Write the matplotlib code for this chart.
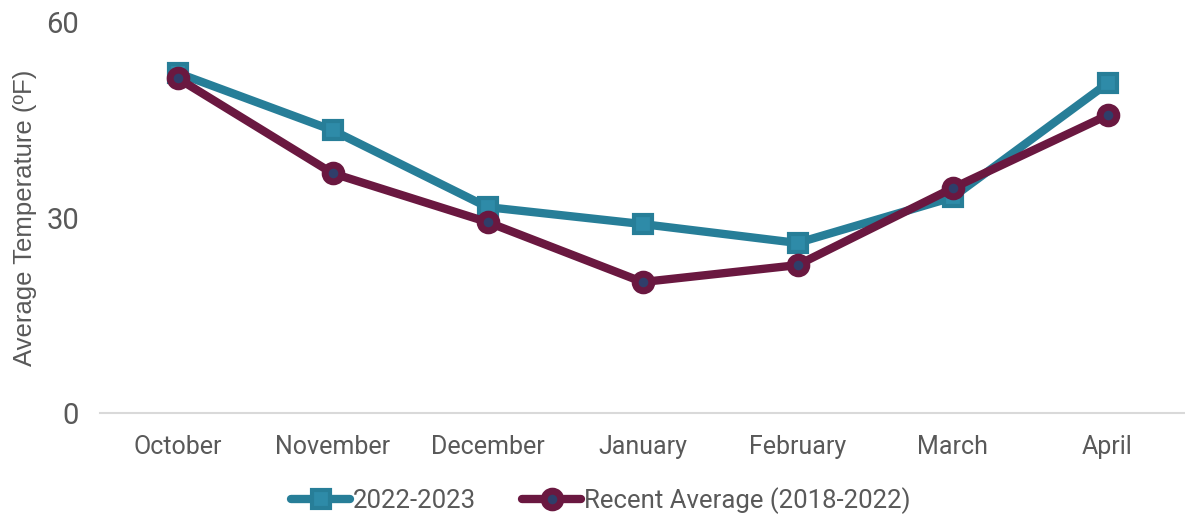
import matplotlib.pyplot as plt

months = ["October", "November", "December", "January", "February", "March", "April"]
temps_2022_2023 = [52.2, 43.4, 31.6, 29.0, 26.1, 33.1, 50.6]
temps_recent_avg = [51.4, 36.8, 29.3, 20.1, 22.7, 34.5, 45.7]

plt.rcParams['font.family'] = ['Roboto', 'DejaVu Sans']
text_color = "#595959"

fig = plt.figure(figsize=(11.85, 5.14), dpi=100)
ax = fig.add_axes([0.0844, 0.1965, 0.9156, 0.7605])

x = range(len(months))
ax.plot(x, temps_2022_2023, color="#277E98", linewidth=6, marker="s", markersize=13,
        markerfacecolor="#2E8BA8", markeredgecolor="#277E98", markeredgewidth=3,
        label="2022-2023", solid_joinstyle="round", solid_capstyle="round", zorder=3)
ax.plot(x, temps_recent_avg, color="#6A1840", linewidth=6, marker="o", markersize=12,
        markerfacecolor="#2F3E6A", markeredgecolor="#6A1840", markeredgewidth=5,
        label="Recent Average (2018-2022)", solid_joinstyle="round", solid_capstyle="round", zorder=4)

ax.set_xlim(-0.5, 6.5)
ax.set_ylim(0, 60)
ax.set_yticks([0, 30, 60])
ax.set_xticks(list(x))
ax.set_xticklabels(months)
ax.tick_params(axis="both", length=0, colors=text_color)
ax.tick_params(axis="y", labelsize=21, pad=15)
ax.tick_params(axis="x", labelsize=18, pad=16)
for side in ["top", "right", "left"]:
    ax.spines[side].set_visible(False)
ax.spines["bottom"].set_color("#D9D9D9")
ax.spines["bottom"].set_linewidth(1.5)

ax.set_ylabel("Average Temperature (ºF)", fontsize=18.5, color=text_color,
              family=["Liberation Sans", "DejaVu Sans"])
ax.yaxis.set_label_coords(-0.058, 0.5)

leg = fig.legend(loc="lower center", bbox_to_anchor=(0.507, -0.045), ncol=2, frameon=False,
                 fontsize=18.5, handlelength=2.3, handletextpad=0.1, columnspacing=1.8)
for t in leg.get_texts():
    t.set_color(text_color)

fig.savefig("out.png", dpi=100)
